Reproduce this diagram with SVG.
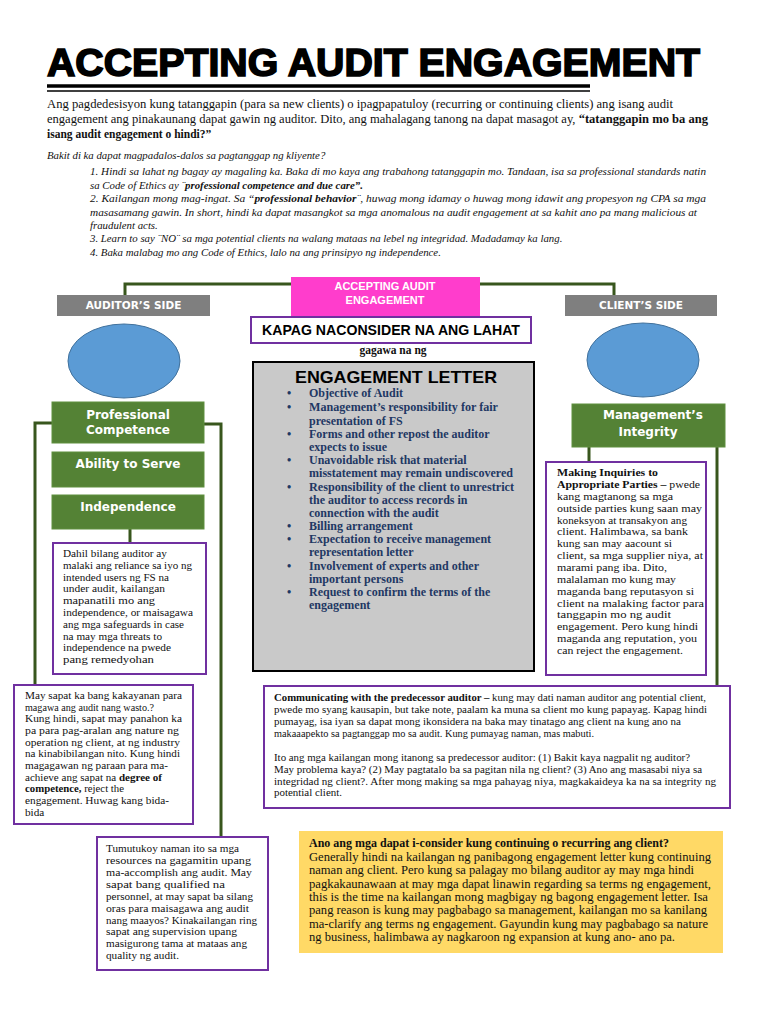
<svg xmlns="http://www.w3.org/2000/svg" width="768" height="1024" viewBox="0 0 768 1024">
<style>
.title{font-family:"Liberation Sans",Arial,sans-serif;font-weight:bold;font-size:38px;fill:#000;stroke:#000;stroke-width:1.6}
.body{font-family:"Liberation Serif","Times New Roman",serif;font-size:11.5px;fill:#111}
.ital{font-family:"Liberation Serif","Times New Roman",serif;font-style:italic;font-size:10.8px;fill:#111}
.gray{fill:#7f7f7f}
.glab{font-family:"DejaVu Sans",Verdana,sans-serif;font-weight:bold;font-size:10.5px;fill:#fff;text-anchor:middle}
.green{fill:#548235;stroke:#5f8f3f;stroke-width:1}
.gtxt{font-family:"DejaVu Sans",Verdana,sans-serif;font-weight:bold;font-size:12px;fill:#fff;text-anchor:middle}
.circ{fill:#5b9bd5;stroke:#41719c;stroke-width:1}
.pbox{fill:#fff;stroke:#7030a0;stroke-width:2}
.btxt{font-family:"Liberation Serif","Times New Roman",serif;font-size:11.2px;fill:#111}
.el{font-family:"Liberation Serif","Times New Roman",serif;font-weight:bold;font-size:12px;fill:#1f3864}
.conn{fill:none;stroke:#38561d;stroke-width:3}
.b{font-weight:bold}
.ytxt{font-family:"Liberation Serif","Times New Roman",serif;font-size:12px;fill:#111}
</style>
<rect width="768" height="1024" fill="#fff"/>

<g id="title">
<text class="title" x="47" y="76" textLength="653" lengthAdjust="spacingAndGlyphs">ACCEPTING AUDIT ENGAGEMENT</text>
<line x1="47" y1="86" x2="590" y2="86" stroke="#000" stroke-width="3.5"/>
<line x1="47" y1="91" x2="590" y2="91" stroke="#000" stroke-width="1.5"/>
</g>

<g id="intro">
<text class="body" x="47" y="108" textLength="626" lengthAdjust="spacingAndGlyphs">Ang pagdedesisyon kung tatanggapin (para sa new clients) o ipagpapatuloy (recurring or continuing clients) ang isang audit</text>
<text class="body" x="47" y="123" textLength="661" lengthAdjust="spacingAndGlyphs">engagement ang pinakaunang dapat gawin ng auditor. Dito, ang mahalagang tanong na dapat masagot ay, <tspan class="b">“tatanggapin mo ba ang</tspan></text>
<text class="body" x="47" y="138"><tspan class="b">isang audit engagement o hindi?”</tspan></text>
</g>

<g id="reasons">
<text class="ital" x="47" y="159">Bakit di ka dapat magpadalos-dalos sa pagtanggap ng kliyente?</text>
<text class="ital" x="90" y="175" textLength="616" lengthAdjust="spacingAndGlyphs">1. Hindi sa lahat ng bagay ay magaling ka. Baka di mo kaya ang trabahong tatanggapin mo. Tandaan, isa sa professional standards natin</text>
<text class="ital" x="90" y="189">sa Code of Ethics ay ¨<tspan class="b">professional competence and due care”.</tspan></text>
<text class="ital" x="90" y="202" textLength="616" lengthAdjust="spacingAndGlyphs">2. Kailangan mong mag-ingat. Sa “<tspan class="b">professional behavior</tspan>¨, huwag mong idamay o huwag mong idawit ang propesyon ng CPA sa mga</text>
<text class="ital" x="90" y="216" textLength="607" lengthAdjust="spacingAndGlyphs">masasamang gawin. In short, hindi ka dapat masangkot sa mga anomalous na audit engagement at sa kahit ano pa mang malicious at</text>
<text class="ital" x="90" y="229">fraudulent acts.</text>
<text class="ital" x="90" y="242">3. Learn to say ¨NO¨ sa mga potential clients na walang mataas na lebel ng integridad. Madadamay ka lang.</text>
<text class="ital" x="90" y="256">4. Baka malabag mo ang Code of Ethics, lalo na ang prinsipyo ng independence.</text>
</g>

<g id="connectors">
<path class="conn" d="M125,295 V284 H291"/>
<path class="conn" d="M480,284 H614 V295"/>
<path class="conn" d="M52,423 H35 V686"/>
<path class="conn" d="M204,424 H221 V838"/>
<path class="conn" d="M130,529 V544"/>
<path class="conn" d="M589,447 V463"/>
<path class="conn" d="M717,447 V687"/>
</g>

<g id="accepting">
<rect x="291" y="277" width="189" height="47" fill="#ff3dcc"/>
<text x="385" y="290" font-family="Liberation Sans,Arial,sans-serif" font-weight="bold" font-size="11" fill="#fff" text-anchor="middle">ACCEPTING AUDIT</text>
<text x="385" y="304" font-family="Liberation Sans,Arial,sans-serif" font-weight="bold" font-size="11" fill="#fff" text-anchor="middle">ENGAGEMENT</text>
</g>

<g id="auditor-side">
<rect class="gray" x="57" y="295" width="153" height="21"/>
<text class="glab" x="133.5" y="309">AUDITOR’S SIDE</text>
</g>
<g id="client-side">
<rect class="gray" x="565" y="295" width="152" height="21"/>
<text class="glab" x="641" y="309">CLIENT’S SIDE</text>
</g>

<g id="auditor-circle"><ellipse class="circ" cx="124" cy="361" rx="56" ry="37"/></g>
<g id="client-circle"><ellipse class="circ" cx="643" cy="360" rx="56" ry="37"/></g>

<g id="kapag">
<rect x="251" y="317" width="280" height="26" fill="#fff" stroke="#7030a0" stroke-width="2"/>
<text x="391" y="335" font-family="Liberation Sans,Arial,sans-serif" font-weight="bold" font-size="14" fill="#000" text-anchor="middle" textLength="258" lengthAdjust="spacingAndGlyphs">KAPAG NACONSIDER NA ANG LAHAT</text>
</g>
<g id="gagawa">
<text x="393" y="354" font-family="Liberation Serif,Times New Roman,serif" font-weight="bold" font-size="11.5" fill="#111" text-anchor="middle">gagawa na ng</text>
</g>

<g id="engagement-letter">
<rect x="253" y="362" width="281" height="309" fill="#c9c9c9" stroke="#000" stroke-width="2"/>
<text x="396" y="383" font-family="Liberation Sans,Arial,sans-serif" font-weight="bold" font-size="17" fill="#000" text-anchor="middle" textLength="202" lengthAdjust="spacingAndGlyphs">ENGAGEMENT LETTER</text>
<g class="el">
<text x="287" y="397">•</text><text x="309" y="397">Objective of Audit</text>
<text x="287" y="411">•</text><text x="309" y="411" textLength="189" lengthAdjust="spacingAndGlyphs">Management’s responsibility for fair</text>
<text x="309" y="425">presentation of FS</text>
<text x="287" y="438">•</text><text x="309" y="438">Forms and other repost the  auditor</text>
<text x="309" y="451">expects to issue</text>
<text x="287" y="464">•</text><text x="309" y="464">Unavoidable risk that material</text>
<text x="309" y="477" textLength="204" lengthAdjust="spacingAndGlyphs">misstatement may remain undiscovered</text>
<text x="287" y="491">•</text><text x="309" y="491" textLength="205" lengthAdjust="spacingAndGlyphs">Responsibility of the client to unrestrict</text>
<text x="309" y="504">the auditor to access records in</text>
<text x="309" y="517">connection with the audit</text>
<text x="287" y="530">•</text><text x="309" y="530">Billing arrangement</text>
<text x="287" y="543">•</text><text x="309" y="543">Expectation to receive management</text>
<text x="309" y="556">representation letter</text>
<text x="287" y="570">•</text><text x="309" y="570">Involvement of experts and other</text>
<text x="309" y="583">important persons</text>
<text x="287" y="596">•</text><text x="309" y="596">Request to confirm the terms of the</text>
<text x="309" y="609">engagement</text>
</g>
</g>

<g id="professional-competence">
<rect class="green" x="52" y="402" width="152" height="41"/>
<text class="gtxt" x="128" y="419">Professional</text>
<text class="gtxt" x="128" y="434">Competence</text>
</g>
<g id="ability-to-serve">
<rect class="green" x="52" y="452" width="152" height="35"/>
<text class="gtxt" x="128" y="468">Ability to Serve</text>
</g>
<g id="independence">
<rect class="green" x="52" y="495" width="152" height="34"/>
<text class="gtxt" x="128" y="511">Independence</text>
</g>
<g id="management-integrity">
<rect class="green" x="572" y="404" width="153" height="43"/>
<text class="gtxt" x="653" y="419">Management’s</text>
<text class="gtxt" x="648" y="436">Integrity</text>
</g>

<g id="independence-note">
<rect class="pbox" x="53" y="543" width="153" height="131"/>
<g class="btxt">
<text x="63" y="557" textLength="104" lengthAdjust="spacingAndGlyphs">Dahil bilang auditor ay</text>
<text x="63" y="569" textLength="129" lengthAdjust="spacingAndGlyphs">malaki ang reliance sa iyo ng</text>
<text x="63" y="581" textLength="106" lengthAdjust="spacingAndGlyphs">intended users ng FS na</text>
<text x="63" y="592" textLength="102" lengthAdjust="spacingAndGlyphs">under audit, kailangan</text>
<text x="63" y="604" textLength="92" lengthAdjust="spacingAndGlyphs">mapanatili mo ang</text>
<text x="63" y="616" textLength="130" lengthAdjust="spacingAndGlyphs">independence, or maisagawa</text>
<text x="63" y="628" textLength="121" lengthAdjust="spacingAndGlyphs">ang mga safeguards in case</text>
<text x="63" y="640" textLength="99" lengthAdjust="spacingAndGlyphs">na may mga threats to</text>
<text x="63" y="651" textLength="108" lengthAdjust="spacingAndGlyphs">independence na pwede</text>
<text x="63" y="663" textLength="91" lengthAdjust="spacingAndGlyphs">pang remedyohan</text>
</g>
</g>

<g id="inquiries-note">
<rect class="pbox" x="546" y="462" width="160" height="213"/>
<g class="btxt">
<text x="557" y="476" textLength="101" lengthAdjust="spacingAndGlyphs" class="b">Making Inquiries to</text>
<text x="557" y="488" textLength="143" lengthAdjust="spacingAndGlyphs"><tspan class="b">Appropriate Parties –</tspan> pwede</text>
<text x="557" y="500" textLength="116" lengthAdjust="spacingAndGlyphs">kang magtanong sa mga</text>
<text x="557" y="512" textLength="145" lengthAdjust="spacingAndGlyphs">outside parties kung saan may</text>
<text x="557" y="524" textLength="130" lengthAdjust="spacingAndGlyphs">koneksyon at transakyon ang</text>
<text x="557" y="535" textLength="131" lengthAdjust="spacingAndGlyphs">client. Halimbawa, sa bank</text>
<text x="557" y="547" textLength="115" lengthAdjust="spacingAndGlyphs">kung san may aacount si</text>
<text x="557" y="559" textLength="146" lengthAdjust="spacingAndGlyphs">client, sa mga supplier niya, at</text>
<text x="557" y="571" textLength="110" lengthAdjust="spacingAndGlyphs">marami pang iba. Dito,</text>
<text x="557" y="583" textLength="119" lengthAdjust="spacingAndGlyphs">malalaman mo kung may</text>
<text x="557" y="595" textLength="137" lengthAdjust="spacingAndGlyphs">maganda bang reputasyon si</text>
<text x="557" y="607" textLength="147" lengthAdjust="spacingAndGlyphs">client na malaking factor para</text>
<text x="557" y="618" textLength="114" lengthAdjust="spacingAndGlyphs">tanggapin mo ng audit</text>
<text x="557" y="630" textLength="141" lengthAdjust="spacingAndGlyphs">engagement. Pero kung hindi</text>
<text x="557" y="642" textLength="140" lengthAdjust="spacingAndGlyphs">maganda ang reputation, you</text>
<text x="557" y="654" textLength="126" lengthAdjust="spacingAndGlyphs">can reject the engagement.</text>
</g>
</g>

<g id="competence-note">
<rect class="pbox" x="14" y="685" width="179" height="139"/>
<g class="btxt">
<text x="25" y="699" textLength="157" lengthAdjust="spacingAndGlyphs">May sapat ka bang kakayanan para</text>
<text x="25" y="711" textLength="129" lengthAdjust="spacingAndGlyphs">magawa ang audit nang wasto.?</text>
<text x="25" y="722" textLength="157" lengthAdjust="spacingAndGlyphs">Kung hindi, sapat may panahon ka</text>
<text x="25" y="734" textLength="154" lengthAdjust="spacingAndGlyphs">pa para pag-aralan ang nature ng</text>
<text x="25" y="746" textLength="155" lengthAdjust="spacingAndGlyphs">operation ng client, at ng industry</text>
<text x="25" y="757" textLength="155" lengthAdjust="spacingAndGlyphs">na kinabibilangan nito. Kung hindi</text>
<text x="25" y="769" textLength="143" lengthAdjust="spacingAndGlyphs">magagawan ng paraan para ma-</text>
<text x="25" y="781" textLength="137" lengthAdjust="spacingAndGlyphs">achieve ang sapat na <tspan class="b">degree of</tspan></text>
<text x="25" y="792" textLength="99" lengthAdjust="spacingAndGlyphs"><tspan class="b">competence,</tspan> reject the</text>
<text x="25" y="804" textLength="144" lengthAdjust="spacingAndGlyphs">engagement. Huwag kang bida-</text>
<text x="25" y="816">bida</text>
</g>
</g>

<g id="ability-note">
<rect class="pbox" x="97" y="837" width="171" height="133"/>
<g class="btxt">
<text x="106" y="852" textLength="133" lengthAdjust="spacingAndGlyphs">Tumutukoy naman ito sa mga</text>
<text x="106" y="864" textLength="145" lengthAdjust="spacingAndGlyphs">resources na gagamitin upang</text>
<text x="106" y="876" textLength="146" lengthAdjust="spacingAndGlyphs">ma-accomplish ang audit. May</text>
<text x="106" y="888" textLength="119" lengthAdjust="spacingAndGlyphs">sapat bang qualified na</text>
<text x="106" y="900" textLength="147" lengthAdjust="spacingAndGlyphs">personnel, at may sapat ba silang</text>
<text x="106" y="912" textLength="143" lengthAdjust="spacingAndGlyphs">oras para maisagawa ang audit</text>
<text x="106" y="924" textLength="151" lengthAdjust="spacingAndGlyphs">nang maayos? Kinakailangan ring</text>
<text x="106" y="935" textLength="131" lengthAdjust="spacingAndGlyphs">sapat ang supervision upang</text>
<text x="106" y="947" textLength="141" lengthAdjust="spacingAndGlyphs">masigurong tama at mataas ang</text>
<text x="106" y="959" textLength="73" lengthAdjust="spacingAndGlyphs">quality ng audit.</text>
</g>
</g>

<g id="predecessor-note">
<rect class="pbox" x="264" y="686" width="466" height="122"/>
<g class="btxt" font-size="10.8">
<text x="274" y="701" textLength="432" lengthAdjust="spacingAndGlyphs"><tspan class="b">Communicating with the predecessor auditor –</tspan> kung may dati naman auditor ang potential client,</text>
<text x="274" y="713" textLength="433" lengthAdjust="spacingAndGlyphs">pwede mo syang kausapin, but take note, paalam ka muna sa client mo kung papayag. Kapag hindi</text>
<text x="274" y="725" textLength="407" lengthAdjust="spacingAndGlyphs">pumayag, isa iyan sa dapat mong ikonsidera na  baka may tinatago ang client na kung ano na</text>
<text x="274" y="737" textLength="320" lengthAdjust="spacingAndGlyphs">makaaapekto sa pagtanggap mo sa audit. Kung pumayag naman, mas mabuti.</text>
<text x="274" y="761" textLength="416" lengthAdjust="spacingAndGlyphs">Ito ang mga kailangan mong itanong sa predecessor auditor: (1) Bakit kaya nagpalit ng auditor?</text>
<text x="274" y="773" textLength="428" lengthAdjust="spacingAndGlyphs">May problema kaya? (2) May pagtatalo ba sa pagitan nila ng client? (3) Ano ang masasabi niya sa</text>
<text x="274" y="785" textLength="442" lengthAdjust="spacingAndGlyphs">integridad ng client?. After mong making sa mga pahayag niya, magkakaideya ka na sa integrity ng</text>
<text x="274" y="796" textLength="68" lengthAdjust="spacingAndGlyphs">potential client.</text>
</g>
</g>

<g id="continuing-note">
<rect x="299" y="831" width="424" height="122" fill="#ffd966"/>
<g class="ytxt">
<text x="309" y="847" textLength="360" lengthAdjust="spacingAndGlyphs" class="b">Ano ang mga dapat i-consider kung continuing o recurring ang client?</text>
<text x="309" y="861" textLength="402" lengthAdjust="spacingAndGlyphs">Generally hindi na kailangan ng panibagong engagement letter kung continuing</text>
<text x="309" y="874" textLength="385" lengthAdjust="spacingAndGlyphs">naman ang client. Pero kung sa palagay mo bilang auditor ay may mga hindi</text>
<text x="309" y="888" textLength="402" lengthAdjust="spacingAndGlyphs">pagkakaunawaan at may mga dapat linawin regarding sa terms ng engagement,</text>
<text x="309" y="901" textLength="399" lengthAdjust="spacingAndGlyphs">this is the time na kailangan mong magbigay ng bagong engagement letter. Isa</text>
<text x="309" y="914" textLength="398" lengthAdjust="spacingAndGlyphs">pang reason is kung may pagbabago sa management, kailangan mo sa kanilang</text>
<text x="309" y="928" textLength="399" lengthAdjust="spacingAndGlyphs">ma-clarify ang terms ng engagement. Gayundin kung may pagbabago sa nature</text>
<text x="309" y="941" textLength="366" lengthAdjust="spacingAndGlyphs">ng business, halimbawa ay nagkaroon ng expansion at kung ano- ano pa.</text>
</g>
</g>
</svg>
